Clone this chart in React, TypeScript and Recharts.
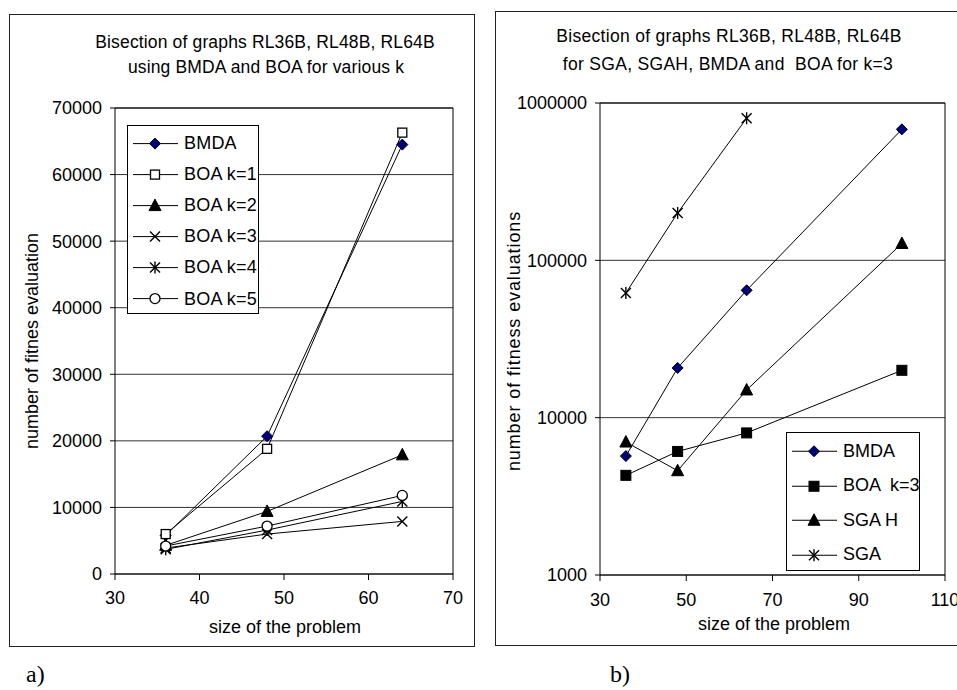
import React from 'react';
import { LineChart, Line, XAxis, YAxis, CartesianGrid, ReferenceLine, Legend } from 'recharts';

// ---------- data: chart a) ----------
const sizesA = [36, 48, 64];
const bmdaA = [5800, 20700, 64500];
const boaK1A = [6000, 18800, 66300];
const boaK2A = [4300, 9400, 17900];
const boaK3A = [3900, 6000, 7900];
const boaK4A = [3700, 6600, 10900];
const boaK5A = [4200, 7200, 11800];
const ticksXA = [30, 40, 50, 60, 70];
const ticksYA = [0, 10000, 20000, 30000, 40000, 50000, 60000, 70000];

// ---------- data: chart b) ----------
const sizesB = [36, 48, 64, 100];
const bmdaB = [5700, 20700, 64500, 680000];
const boaK3B = [4300, 6100, 8000, 20000];
const sgahB = [7000, 4600, 15000, 128000];
const sgaB = [62000, 200000, 800000];
const ticksXB = [30, 50, 70, 90, 110];
const ticksYB = [1000, 10000, 100000, 1000000];

type Shape = 'diamond' | 'squareOpen' | 'squareFilled' | 'triangle' | 'x' | 'asterisk' | 'circle';

const seriesA: { key: string; name: string; shape: Shape; values: number[] }[] = [
  { key: 'bmda', name: 'BMDA', shape: 'diamond', values: bmdaA },
  { key: 'k1', name: 'BOA k=1', shape: 'squareOpen', values: boaK1A },
  { key: 'k2', name: 'BOA k=2', shape: 'triangle', values: boaK2A },
  { key: 'k3', name: 'BOA k=3', shape: 'x', values: boaK3A },
  { key: 'k4', name: 'BOA k=4', shape: 'asterisk', values: boaK4A },
  { key: 'k5', name: 'BOA k=5', shape: 'circle', values: boaK5A },
];

const seriesB: { key: string; name: string; shape: Shape; values: number[] }[] = [
  { key: 'bmda', name: 'BMDA', shape: 'diamond', values: bmdaB },
  { key: 'boa3', name: 'BOA  k=3', shape: 'squareFilled', values: boaK3B },
  { key: 'sgah', name: 'SGA H', shape: 'triangle', values: sgahB },
  { key: 'sga', name: 'SGA', shape: 'asterisk', values: sgaB },
];

const buildRows = (sizes: number[], series: { key: string; values: number[] }[]) =>
  sizes.map((s, i) => {
    const row: Record<string, number | undefined> = { size: s };
    series.forEach((se) => {
      row[se.key] = se.values[i];
    });
    return row;
  });

const dataA = buildRows(sizesA, seriesA);
const dataB = buildRows(sizesB, seriesB);

const FONT = '"Liberation Sans", Arial, sans-serif';

function Marker({ cx, cy, shape }: { cx: number; cy: number; shape: Shape }) {
  switch (shape) {
    case 'diamond': {
      const r = 5.5;
      return (
        <polygon
          points={`${cx},${cy - r} ${cx + r},${cy} ${cx},${cy + r} ${cx - r},${cy}`}
          fill="#000080"
          stroke="#000"
          strokeWidth={1}
        />
      );
    }
    case 'squareOpen':
      return <rect x={cx - 4.5} y={cy - 4.5} width={9} height={9} fill="#fff" stroke="#000" strokeWidth={1.3} />;
    case 'squareFilled':
      return <rect x={cx - 5} y={cy - 5} width={10} height={10} fill="#000" stroke="#000" strokeWidth={1} />;
    case 'triangle':
      return (
        <polygon
          points={`${cx},${cy - 6.5} ${cx + 6},${cy + 5} ${cx - 6},${cy + 5}`}
          fill="#000"
          stroke="#000"
          strokeWidth={1}
        />
      );
    case 'x':
      return (
        <g stroke="#000" strokeWidth={1.4}>
          <line x1={cx - 5} y1={cy - 5} x2={cx + 5} y2={cy + 5} />
          <line x1={cx - 5} y1={cy + 5} x2={cx + 5} y2={cy - 5} />
        </g>
      );
    case 'asterisk':
      return (
        <g stroke="#000" strokeWidth={1.4}>
          <line x1={cx - 5} y1={cy - 5} x2={cx + 5} y2={cy + 5} />
          <line x1={cx - 5} y1={cy + 5} x2={cx + 5} y2={cy - 5} />
          <line x1={cx} y1={cy - 6} x2={cx} y2={cy + 6} />
        </g>
      );
    case 'circle':
      return <circle cx={cx} cy={cy} r={5} fill="#fff" stroke="#000" strokeWidth={1.3} />;
  }
  return null;
}

const dotRenderer = (shape: Shape, key: string) => (props: any) => {
  const { cx, cy, index } = props;
  if (cx == null || cy == null || isNaN(cx) || isNaN(cy)) return <g key={`${key}-${index}`} />;
  return (
    <g key={`${key}-${index}`}>
      <Marker cx={cx} cy={cy} shape={shape} />
    </g>
  );
};

function LegendBox({
  series,
  rowHeight,
  padTop,
  width,
  height,
  letterSpacing,
}: {
  series: { key: string; name: string; shape: Shape }[];
  rowHeight: number;
  padTop: number;
  width: number;
  height: number;
  letterSpacing: number;
}) {
  return (
    <div
      style={{
        width,
        height,
        boxSizing: 'border-box',
        border: '1.3px solid #000',
        background: '#fff',
        paddingTop: padTop,
        fontFamily: FONT,
        fontSize: 18,
      }}
    >
      {series.map((s) => (
        <div key={s.key} style={{ height: rowHeight, display: 'flex', alignItems: 'center' }}>
          <svg width={56} height={rowHeight} style={{ display: 'block', flex: 'none' }}>
            <line x1={5} y1={rowHeight / 2} x2={50} y2={rowHeight / 2} stroke="#000" strokeWidth={1} />
            <Marker cx={27} cy={rowHeight / 2} shape={s.shape} />
          </svg>
          <span style={{ whiteSpace: 'pre', letterSpacing, color: '#000' }}>{s.name}</span>
        </div>
      ))}
    </div>
  );
}

function Txt({
  x,
  y,
  children,
  size = 18,
  rotate = false,
  spacing = 0,
  family = FONT,
}: {
  x: number;
  y: number;
  children: React.ReactNode;
  size?: number;
  rotate?: boolean;
  spacing?: number;
  family?: string;
}) {
  return (
    <div
      style={{
        position: 'absolute',
        left: x,
        top: y,
        transform: `translate(-50%, -50%)${rotate ? ' rotate(-90deg)' : ''}`,
        fontFamily: family,
        fontSize: size,
        lineHeight: `${size}px`,
        whiteSpace: 'pre',
        letterSpacing: spacing,
        color: '#000',
      }}
    >
      {children}
    </div>
  );
}

const tickStyle = { fill: '#000', fontSize: 18, fontFamily: FONT };

export default function App() {
  return (
    <div
      style={{
        position: 'fixed',
        left: 0,
        top: 0,
        width: 957,
        height: 690,
        overflow: 'hidden',
        background: '#fff',
      }}
    >
      {/* ---------------- chart a) ---------------- */}
      <div
        style={{
          position: 'absolute',
          left: 9,
          top: 14,
          width: 466,
          height: 633,
          boxSizing: 'border-box',
          border: '1.5px solid #222',
        }}
      />
      <div style={{ position: 'absolute', left: 9, top: 14 }}>
        <LineChart width={466} height={633} data={dataA} margin={{ top: 94, right: 22, bottom: 43, left: 0 }}>
          <CartesianGrid horizontal vertical={false} stroke="#333" strokeWidth={1} />
          <XAxis
            type="number"
            dataKey="size"
            domain={[30, 70]}
            ticks={ticksXA}
            height={30}
            tickSize={6}
            tickMargin={11}
            tick={tickStyle}
            stroke="#000"
            allowDataOverflow
          />
          <YAxis
            type="number"
            domain={[0, 70000]}
            ticks={ticksYA}
            width={106}
            tickSize={5}
            tickMargin={8}
            tick={tickStyle}
            stroke="#000"
            allowDataOverflow
          />
          <ReferenceLine y={70000} stroke="#000" strokeWidth={1} />
          <ReferenceLine x={70} stroke="#000" strokeWidth={1} />
          {seriesA.map((s) => (
            <Line
              key={s.key}
              dataKey={s.key}
              name={s.name}
              stroke="#000"
              strokeWidth={1}
              dot={dotRenderer(s.shape, s.key)}
              activeDot={false}
              isAnimationActive={false}
            />
          ))}
          <Legend
            layout="vertical"
            align="center"
            verticalAlign="middle"
            wrapperStyle={{ left: 118, top: 111, width: 132, height: 189 }}
            content={() => (
              <LegendBox series={seriesA} rowHeight={31.2} padTop={1.5} width={132} height={189} letterSpacing={0.2} />
            )}
          />
        </LineChart>
      </div>
      <Txt x={265} y={43} size={17.5} spacing={0.15}>Bisection of graphs RL36B, RL48B, RL64B</Txt>
      <Txt x={266} y={68} size={17.5} spacing={0.15}>using BMDA and BOA for various k</Txt>
      <Txt x={285} y={627}>size of the problem</Txt>
      <Txt x={32} y={341} rotate>number of fitnes evaluation</Txt>

      {/* ---------------- chart b) ---------------- */}
      <div
        style={{
          position: 'absolute',
          left: 495,
          top: 11,
          width: 480,
          height: 635,
          boxSizing: 'border-box',
          border: '1.5px solid #222',
        }}
      />
      <div style={{ position: 'absolute', left: 495, top: 11 }}>
        <LineChart width={480} height={635} data={dataB} margin={{ top: 92, right: 30, bottom: 41, left: 0 }}>
          <CartesianGrid horizontal vertical={false} stroke="#333" strokeWidth={1} />
          <XAxis
            type="number"
            dataKey="size"
            domain={[30, 110]}
            ticks={ticksXB}
            height={30}
            tickSize={6}
            tickMargin={12}
            tick={tickStyle}
            stroke="#000"
            allowDataOverflow
          />
          <YAxis
            type="number"
            scale="log"
            domain={[1000, 1000000]}
            ticks={ticksYB}
            width={105}
            tickSize={5}
            tickMargin={8}
            tick={tickStyle}
            stroke="#000"
            allowDataOverflow
          />
          <ReferenceLine y={1000000} stroke="#000" strokeWidth={1} />
          <ReferenceLine x={110} stroke="#000" strokeWidth={1} />
          {seriesB.map((s) => (
            <Line
              key={s.key}
              dataKey={s.key}
              name={s.name}
              stroke="#000"
              strokeWidth={1}
              dot={dotRenderer(s.shape, s.key)}
              activeDot={false}
              isAnimationActive={false}
            />
          ))}
          <Legend
            layout="vertical"
            align="center"
            verticalAlign="middle"
            wrapperStyle={{ left: 291, top: 421, width: 134, height: 139 }}
            content={() => (
              <LegendBox series={seriesB} rowHeight={34.5} padTop={1} width={134} height={139} letterSpacing={0} />
            )}
          />
        </LineChart>
      </div>
      <Txt x={729} y={37} size={17.5} spacing={0.3}>Bisection of graphs RL36B, RL48B, RL64B</Txt>
      <Txt x={728} y={65} size={17.5} spacing={0.3}>for SGA, SGAH, BMDA and  BOA for k=3</Txt>
      <Txt x={774} y={624}>size of the problem</Txt>
      <Txt x={514} y={341} rotate spacing={0.9}>number of fitness evaluations</Txt>

      {/* panel labels */}
      <div
        style={{
          position: 'absolute',
          left: 26,
          top: 662,
          fontFamily: '"Liberation Serif", "Times New Roman", serif',
          fontSize: 24,
          lineHeight: '24px',
          color: '#000',
        }}
      >
        a)
      </div>
      <div
        style={{
          position: 'absolute',
          left: 610,
          top: 662,
          fontFamily: '"Liberation Serif", "Times New Roman", serif',
          fontSize: 24,
          lineHeight: '24px',
          color: '#000',
        }}
      >
        b)
      </div>
    </div>
  );
}
